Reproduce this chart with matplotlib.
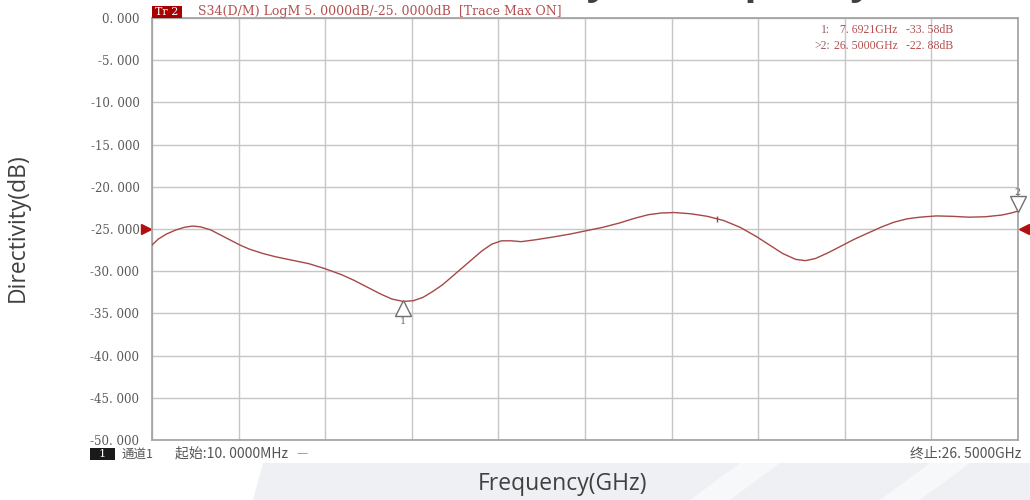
import matplotlib
matplotlib.use("Agg")
import matplotlib.pyplot as plt
import numpy as np
from matplotlib.patches import Polygon, Rectangle

# trace S34
freq_ghz = [0.01, 0.2, 0.45, 0.75, 1.0, 1.25, 1.5, 1.8, 2.1, 2.4, 2.7, 3.0, 3.4,
            3.8, 4.3, 4.8, 5.3, 5.8, 6.2, 6.6, 7.0, 7.35, 7.69, 8.0, 8.3, 8.6,
            8.9, 9.2, 9.5, 9.8, 10.1, 10.4, 10.7, 11.0, 11.3, 11.7, 12.2, 12.8,
            13.3, 13.8, 14.3, 14.8, 15.2, 15.6, 16.0, 16.5, 17.0, 17.5, 18.0,
            18.5, 18.9, 19.3, 19.7, 20.0, 20.3, 20.7, 21.1, 21.5, 21.9, 22.3,
            22.7, 23.1, 23.5, 24.0, 24.5, 25.0, 25.5, 26.0, 26.3, 26.5]
dir_db = [-26.9, -26.2, -25.6, -25.1, -24.8, -24.65, -24.75, -25.1, -25.7, -26.3,
          -26.9, -27.4, -27.9, -28.3, -28.7, -29.1, -29.7, -30.4, -31.1, -31.9,
          -32.7, -33.3, -33.58, -33.5, -33.1, -32.4, -31.6, -30.6, -29.6, -28.6,
          -27.6, -26.8, -26.4, -26.4, -26.5, -26.3, -26.0, -25.6, -25.2, -24.8,
          -24.3, -23.7, -23.3, -23.1, -23.05, -23.2, -23.5, -24.0, -24.8, -25.9,
          -26.9, -27.9, -28.6, -28.75, -28.5, -27.8, -27.0, -26.2, -25.5, -24.8,
          -24.2, -23.8, -23.6, -23.45, -23.5, -23.6, -23.55, -23.35, -23.1, -22.88]

y_ticks = [0, -5, -10, -15, -20, -25, -30, -35, -40, -45, -50]
f_start = 0.01
f_stop = 26.5
ref_level = -25
mk1 = (7.6921, -33.58)
mk2 = (26.5, -22.88)

W, H = 1030, 500
def px(x, y):
    return x / W, 1 - y / H

fig = plt.figure(figsize=(10.3, 5), dpi=100)
fig.patch.set_facecolor("white")

# slide background band at the bottom
band = '#eef0f3'
fig.patches.append(Polygon([px(263, 463), px(1030, 463), px(1030, 500), px(253, 500)],
                           closed=True, transform=fig.transFigure, facecolor=band,
                           edgecolor='none', zorder=0))
for x0 in [740, 930]:
    fig.patches.append(Polygon([px(x0, 463), px(x0 + 40, 463), px(x0 - 10, 500), px(x0 - 50, 500)],
                               closed=True, transform=fig.transFigure, facecolor='#f7f8fa',
                               edgecolor='none', zorder=0))

ax = fig.add_axes([152 / W, 60 / H, 866 / W, 422 / H])
ax.set_facecolor('white')
ax.plot(freq_ghz, dir_db, color='#a64848', lw=1.0, zorder=3)
ax.set_xlim(f_start, f_stop)
ax.set_ylim(-50, 0)

ax.set_xticks(np.linspace(f_start, f_stop, 11))
ax.set_yticks(y_ticks)
ax.grid(True, color='#c6c6c6', lw=1.0)
ax.tick_params(length=0, labelbottom=False, labelsize=8.5, colors='#5a5a5a', pad=9)
ax.set_yticklabels([("%.3f" % v).replace(".", ". ") for v in y_ticks],
                   family='DejaVu Serif')
for s in ax.spines.values():
    s.set_color('#a0a0a0')
    s.set_linewidth(1.2)

# markers
ax.plot([mk1[0]], [mk1[1] - 0.75], marker='^', ms=11, mfc='white', mec='#707070',
        mew=1.0, zorder=4)
ax.text(mk1[0], mk1[1] - 2.4, "1", ha='center', va='center', fontsize=7,
        color='#707070', family='DejaVu Serif')
ax.plot([mk2[0]], [mk2[1] + 0.85], marker='v', ms=11, mfc='white', mec='#707070',
        mew=1.0, zorder=4, clip_on=False)
ax.text(mk2[0], mk2[1] + 2.2, "2", ha='center', va='center', fontsize=7,
        color='#707070', family='DejaVu Serif')
ax.plot([17.3], [-23.8], marker='|', ms=5, color='#8a4a4a', zorder=4)

# reference level triangles
ax.plot([-0.007], [ref_level], marker='>', ms=7, color='#b01010',
        transform=ax.get_yaxis_transform(), clip_on=False)
ax.plot([1.007], [ref_level], marker='<', ms=7, color='#b01010',
        transform=ax.get_yaxis_transform(), clip_on=False)

# instrument header
inst_red = '#b45050'
fig.patches.append(Rectangle(px(152, 18), 30 / W, 12 / H, transform=fig.transFigure,
                             facecolor='#a80000', edgecolor='none', zorder=5))
fig.text(*px(155, 12), "Tr 2", color='white', fontsize=8, va='center',
         family='DejaVu Serif', zorder=6)
fig.text(*px(198, 12), "S34(D/M) LogM 5. 0000dB/-25. 0000dB  [Trace Max ON]",
         color=inst_red, fontsize=9, va='center', family='DejaVu Serif')

# marker table
tf = dict(fontsize=8.5, va='center', family='Liberation Serif')
fig.text(*px(830, 30), "1:", color='#8a6060', ha='right', **tf)
fig.text(*px(830, 46), ">2:", color='#8a6060', ha='right', **tf)
fig.text(*px(898, 30), "7. 6921GHz", color=inst_red, ha='right', **tf)
fig.text(*px(898, 46), "26. 5000GHz", color=inst_red, ha='right', **tf)
fig.text(*px(906, 30), "-33. 58dB", color=inst_red, ha='left', **tf)
fig.text(*px(906, 46), "-22. 88dB", color=inst_red, ha='left', **tf)

# channel footer
cjk = ['Noto Sans CJK SC', 'DejaVu Sans']
fig.patches.append(Rectangle(px(90, 460), 25 / W, 12 / H, transform=fig.transFigure,
                             facecolor='#1a1a1a', edgecolor='none', zorder=5))
fig.text(*px(102, 454), "1", color='white', fontsize=8, ha='center', va='center',
         family='DejaVu Serif', zorder=6)
fig.text(*px(122, 454), "通道1", color='#555555', fontsize=9, va='center', family=cjk)
fig.text(*px(175, 454), "起始:10. 0000MHz", color='#555555', fontsize=10,
         va='center', family=cjk)
fig.text(*px(296, 454), "—", color='#e08080', fontsize=9, va='center', family=cjk)
fig.text(*px(1021, 454), "终止:26. 5000GHz", color='#555555', fontsize=10,
         ha='right', va='center', family=cjk)

# slide axis titles
fig.text(*px(18, 228), "Directivity(dB)", rotation=90, ha='center', va='center',
         fontsize=16.5, color='#404040', family='Open Sans')
fig.text(*px(563, 484), "Frequency(GHz)", ha='center', va='center',
         fontsize=16.5, color='#404040', family='Open Sans')
# slide title, mostly cut off at the top edge
fig.text(*px(640, -6), "Directivity vs Frequency", ha='center', va='baseline',
         fontsize=28, color='#404040', family='Open Sans', fontweight='bold')

fig.savefig("out.png", dpi=100)
